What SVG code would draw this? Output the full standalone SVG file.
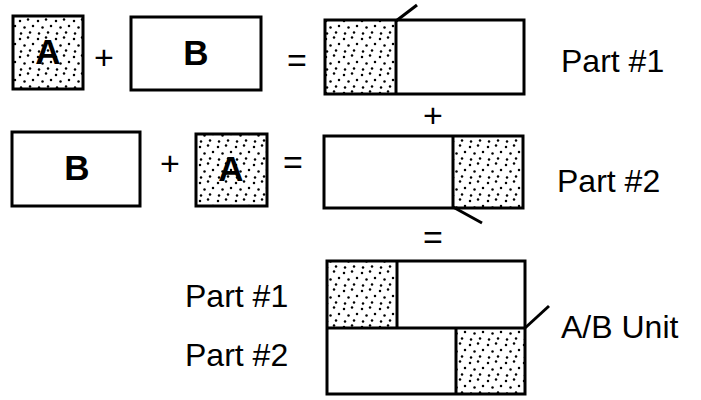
<svg xmlns="http://www.w3.org/2000/svg" width="701" height="400" viewBox="0 0 701 400">
<style>
.box{fill:none;stroke:#000;stroke-width:3}
.dot{fill:url(#dots);stroke:none}
.ln{stroke:#000;stroke-width:3;fill:none}
.big{font-family:"Liberation Sans",Arial,sans-serif;font-weight:bold;font-size:35px;text-anchor:middle;fill:#000}
.op{font-family:"Liberation Sans",Arial,sans-serif;font-size:34px;text-anchor:middle;fill:#000}
.lbl{font-family:"Liberation Sans",Arial,sans-serif;font-size:32px;fill:#000}
</style>
<defs>
<pattern id="dots" width="18" height="18" patternUnits="userSpaceOnUse">
<rect width="18" height="18" fill="#fff"/>
<circle cx="2" cy="3" r="1.25" fill="#000"/>
<circle cx="10" cy="1.5" r="1.25" fill="#000"/>
<circle cx="15" cy="8" r="1.25" fill="#000"/>
<circle cx="6.5" cy="9.5" r="1.25" fill="#000"/>
<circle cx="12" cy="14.5" r="1.25" fill="#000"/>
<circle cx="3" cy="15.5" r="1.25" fill="#000"/>
</pattern>
</defs>
<g id="a1">
<rect x="13" y="16" width="70" height="73" class="dot"/>
<rect x="13" y="16" width="70" height="73" class="box"/>
<text x="48" y="64" class="big">A</text>
</g>
<text x="104" y="69" class="op">+</text>
<g id="b1">
<rect x="131" y="17" width="130" height="73" fill="#fff"/>
<rect x="131" y="17" width="130" height="73" class="box"/>
<text x="196" y="65" class="big">B</text>
</g>
<text x="297" y="72" class="op">=</text>
<g id="part1">
<rect x="325" y="20" width="71" height="74" class="dot"/>
<rect x="325" y="20" width="199" height="74" class="box"/>
<line x1="396" y1="20" x2="396" y2="94" class="ln"/>
</g>
<text x="561" y="72" class="lbl">Part #1</text>
<text x="433" y="127" class="op">+</text>
<g id="b2">
<rect x="12" y="132" width="128" height="74" class="box"/>
<text x="77" y="180" class="big">B</text>
</g>
<text x="170" y="175" class="op">+</text>
<g id="a2">
<rect x="196" y="134" width="71" height="72" class="dot"/>
<rect x="196" y="134" width="71" height="72" class="box"/>
<text x="231" y="181" class="big">A</text>
</g>
<text x="293" y="174" class="op">=</text>
<g id="part2">
<rect x="453" y="136" width="70" height="72" class="dot"/>
<rect x="324" y="136" width="199" height="72" class="box"/>
<line x1="453" y1="136" x2="453" y2="208" class="ln"/>
</g>
<text x="557" y="192" class="lbl">Part #2</text>
<text x="433" y="249" class="op">=</text>
<g id="unit">
<rect x="327" y="261" width="70" height="67" class="dot"/>
<rect x="456" y="328" width="69" height="66" class="dot"/>
<rect x="327" y="261" width="198" height="133" class="box"/>
<line x1="327" y1="328" x2="525" y2="328" class="ln"/>
<line x1="397" y1="261" x2="397" y2="328" class="ln"/>
<line x1="456" y1="328" x2="456" y2="394" class="ln"/>
</g>
<text x="185" y="307" class="lbl">Part #1</text>
<text x="185" y="366" class="lbl">Part #2</text>
<text x="561" y="338" class="lbl">A/B Unit</text>
<g id="connectors">
<line x1="396" y1="21" x2="417" y2="5" class="ln"/>
<line x1="453" y1="207" x2="482" y2="223" class="ln"/>
<line x1="525" y1="328" x2="549" y2="306" class="ln"/>
</g>
</svg>
